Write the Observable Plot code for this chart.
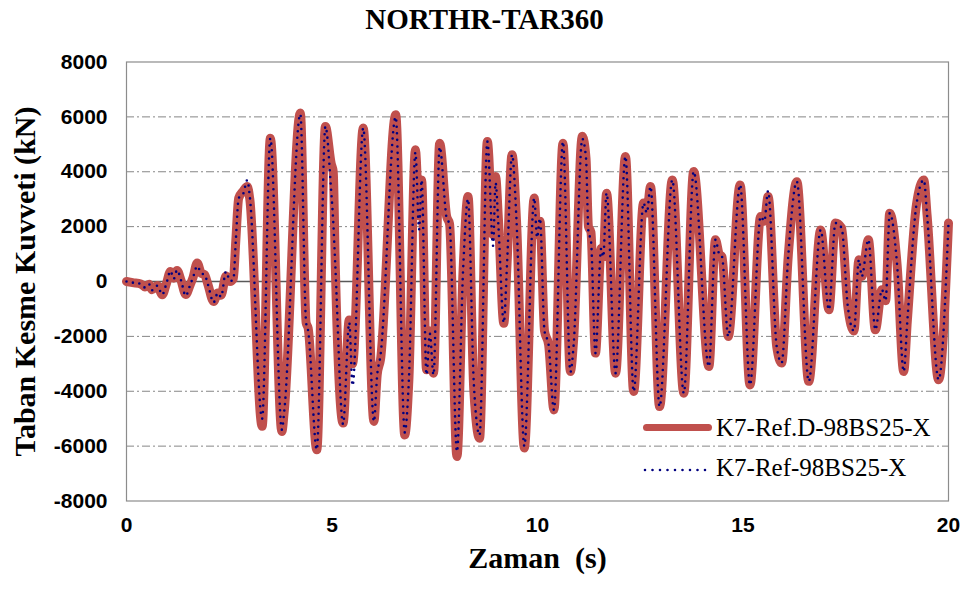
<!DOCTYPE html>
<html>
<head>
<meta charset="utf-8">
<script src="https://cdn.jsdelivr.net/npm/d3@7"></script>
<script src="https://cdn.jsdelivr.net/npm/@observablehq/plot@0.6"></script>
<style>
  html, body { margin: 0; padding: 0; background: #fff; }
  #wrap { position: relative; width: 969px; height: 590px; }
  #title { height: 44px; line-height: 38px; text-align: center; font-family: "Liberation Serif", serif; font-weight: bold; font-size: 29px; color: #000; }
  .leg { position: absolute; font-family: "Liberation Serif", serif; font-size: 25px; color: #000; white-space: nowrap; line-height: 1; }
</style>
</head>
<body>
<div id="wrap">
  <div id="title">NORTHR-TAR360</div>
  <div id="chart"></div>
</div>
<script>
// Time (s) of read-off turning points
const times = [0.00,0.15,0.35,0.45,0.55,0.62,0.75,0.87,0.97,1.07,1.15,1.23,1.33,1.44,1.55,1.62,1.72,1.82,1.90,1.98,2.12,2.22,2.30,2.42,2.52,2.60,2.66,2.73,2.84,2.94,3.00,3.30,3.50,3.78,3.84,4.23,4.37,4.42,4.63,4.84,4.98,5.03,5.08,5.27,5.42,5.50,5.76,6.02,6.10,6.18,6.55,6.77,6.87,7.03,7.12,7.18,7.30,7.38,7.47,7.62,7.79,7.86,8.04,8.19,8.31,8.45,8.59,8.78,8.92,8.98,9.05,9.18,9.26,9.38,9.49,9.68,9.92,9.99,10.06,10.17,10.27,10.40,10.62,10.80,10.88,11.09,11.18,11.24,11.30,11.41,11.55,11.60,11.68,11.90,12.14,12.34,12.58,12.66,12.75,12.97,13.28,13.56,13.80,14.17,14.33,14.42,14.49,14.64,14.93,15.17,15.43,15.52,15.61,15.82,15.94,16.10,16.31,16.60,16.89,17.09,17.25,17.40,17.55,17.70,17.82,17.89,18.05,18.22,18.38,18.47,18.57,18.75,18.91,19.00,19.22,19.40,19.48,19.76,20.00];

// K7-Ref.D-98BS25-X (kN)
const refD = [0,-40,-90,-200,-100,-300,-150,-480,-80,360,120,400,30,-470,-120,150,670,300,250,-100,-730,-420,-500,200,0,100,1500,3040,3300,3460,3000,-5280,5220,-5470,-4700,6140,-1500,-1700,-6130,5650,4300,4000,600,-5160,-1400,-3000,5590,-5100,-3400,-2850,6080,-5590,-3600,4800,2400,3700,-3220,-1800,-3340,5040,2370,2100,-6380,430,3100,-3950,-5710,5100,1700,3830,2250,-1520,670,4620,2200,-6070,3040,1700,2200,-1800,-2300,-4680,5040,-3280,-2100,5290,4500,2000,1800,-2610,1200,900,3220,-3340,4560,-4010,2860,2500,3460,-4560,3700,-4070,4010,-3100,1520,1000,900,-2000,3520,-3770,2370,2200,3100,-2370,-2970,910,3640,-3640,1880,-1030,2130,1950,-910,-1800,790,185,1520,-1760,-300,-700,2490,600,-3280,-1400,2800,3700,2400,-3580,2130];

// K7-Ref-98BS25-X (kN)
const ref = [0,-40,-90,-220,-100,-320,-150,-480,-80,380,100,420,30,-520,-120,150,560,300,250,-100,-760,-420,-560,360,20,60,1500,3040,3200,3700,3100,-5000,5220,-5400,-4700,6100,-1500,-1800,-6130,5650,3300,2200,600,-5200,-1500,-3800,5590,-5100,-3400,-2700,6000,-5500,-3600,4700,1900,3700,-3400,-1900,-3400,4900,2300,2100,-6200,430,3000,-3700,-5600,5100,1300,3600,2000,-1500,670,4620,2200,-6000,3040,1600,2300,-1800,-2300,-4680,5100,-3300,-2300,5200,4500,1800,1500,-2610,1200,900,3220,-3340,4560,-4010,2860,2500,3460,-4560,3700,-4070,4010,-3100,1520,1000,900,-2000,3520,-3770,2370,2200,3300,-2370,-2970,910,3640,-3640,1880,-1030,2130,1950,-910,-1800,790,185,1520,-1760,-300,-700,2490,600,-3280,-1400,2800,3700,2400,-3580,2130];

const xTicks = [0, 5, 10, 15, 20];
const yTicks = [-8000, -6000, -4000, -2000, 0, 2000, 4000, 6000, 8000];
const gridTicks = [-6000, -4000, -2000, 2000, 4000, 6000];
const seriesNames = ["K7-Ref.D-98BS25-X", "K7-Ref-98BS25-X"];
const xLabel = "Zaman\u00A0\u00A0(s)";
const yLabel = "Taban Kesme Kuvveti (kN)";

const dataD = times.map((t, i) => ({t, v: refD[i]}));
const dataR = times.map((t, i) => ({t, v: ref[i]}));

const chart = Plot.plot({
  width: 969,
  height: 546,
  marginLeft: 126,
  marginRight: 21,
  marginTop: 17.5,
  marginBottom: 89.5,
  style: {fontFamily: "'Liberation Sans', Arial, sans-serif", fontSize: "21px", fontWeight: "bold", color: "#000", background: "#fff", overflow: "visible"},
  x: {domain: [0, 20]},
  y: {domain: [-8000, 8000]},
  marks: [
    Plot.gridY(gridTicks, {stroke: "#868686", strokeOpacity: 1, strokeWidth: 1, strokeDasharray: "8,3,2,3"}),
    Plot.ruleY([0], {stroke: "#595959", strokeWidth: 1.5}),
    Plot.frame({stroke: "#8c8c8c", strokeWidth: 1.2}),
    Plot.line(dataD, {x: "t", y: "v", curve: "monotone-x", stroke: "#C0504D", strokeWidth: 9, strokeLinejoin: "round", strokeLinecap: "round"}),
    Plot.line(dataR, {x: "t", y: "v", curve: "monotone-x", stroke: "#000080", strokeWidth: 2.6, strokeDasharray: "0,6.5", strokeLinecap: "round"}),
    Plot.axisX(xTicks, {tickSize: 0, tickPadding: 16, fontSize: 21, fontWeight: "bold", label: null}),
    Plot.axisY(yTicks, {tickSize: 0, tickPadding: 19, fontSize: 21, fontWeight: "bold", label: null, tickFormat: d => String(d)}),
    Plot.text([xLabel], {frameAnchor: "bottom", dy: 67, fontSize: 30, fontWeight: "bold", fontFamily: "'Liberation Serif', serif", text: d => d, textAnchor: "middle"}),
    Plot.text([yLabel], {frameAnchor: "left", dx: -101, rotate: -90, fontSize: 30, fontWeight: "bold", fontFamily: "'Liberation Serif', serif", text: d => d, textAnchor: "middle"})
  ]
});
document.getElementById("chart").appendChild(chart);

// Legend (HTML overlay)
const wrap = document.getElementById("wrap");
const l1 = document.createElement("div");
l1.style.cssText = "position:absolute;left:643px;top:423.5px;width:69px;height:7px;border-radius:3.5px;background:#C0504D;";
wrap.appendChild(l1);
const t1 = document.createElement("div");
t1.className = "leg"; t1.textContent = seriesNames[0];
t1.style.left = "716px"; t1.style.top = "415px";
wrap.appendChild(t1);
const ns = "http://www.w3.org/2000/svg";
const s2 = document.createElementNS(ns, "svg");
s2.setAttribute("width", "72"); s2.setAttribute("height", "10");
s2.style.cssText = "position:absolute;left:640px;top:465px;";
const ln = document.createElementNS(ns, "line");
ln.setAttribute("x1", "5"); ln.setAttribute("x2", "68"); ln.setAttribute("y1", "5"); ln.setAttribute("y2", "5");
ln.setAttribute("stroke", "#000080"); ln.setAttribute("stroke-width", "2.6");
ln.setAttribute("stroke-dasharray", "0,7.5"); ln.setAttribute("stroke-linecap", "round");
s2.appendChild(ln);
wrap.appendChild(s2);
const t2 = document.createElement("div");
t2.className = "leg"; t2.textContent = seriesNames[1];
t2.style.left = "716px"; t2.style.top = "455px";
wrap.appendChild(t2);
</script>
</body>
</html>
